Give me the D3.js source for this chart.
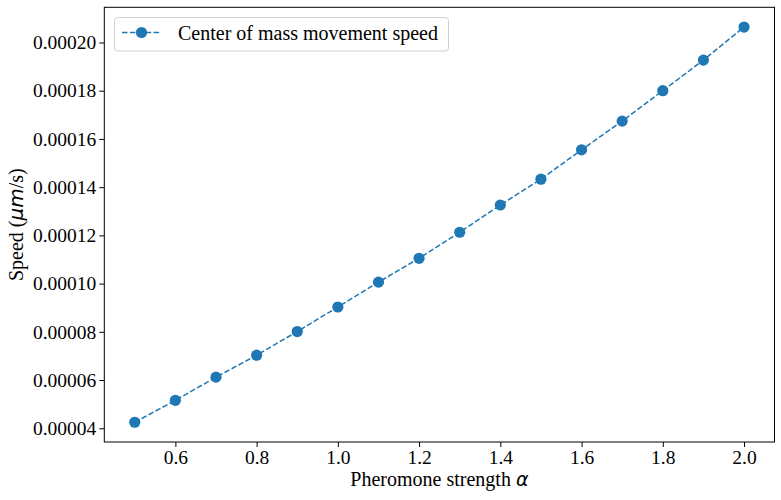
<!DOCTYPE html>
<html><head><meta charset="utf-8">
<script src="https://cdn.jsdelivr.net/npm/d3@7"></script>
<style>body{margin:0;background:#fff;} svg{display:block;}</style>
</head><body>
<svg id="chart" width="781" height="500"></svg>
<script>
const alphas = [0.5,0.6,0.7,0.8,0.9,1.0,1.1,1.2,1.3,1.4,1.5,1.6,1.7,1.8,1.9,2.0];
const speeds = [0.0000425,0.0000516,0.0000612,0.0000703,0.0000801,0.0000903,0.0001006,0.0001105,0.0001213,0.0001326,0.0001433,0.0001555,0.0001674,0.0001800,0.0001927,0.0002064];
const xTicks = [0.6,0.8,1.0,1.2,1.4,1.6,1.8,2.0];
const yTicks = [0.00004,0.00006,0.00008,0.00010,0.00012,0.00014,0.00016,0.00018,0.00020];
const seriesName = "Center of mass movement speed";

const svg = d3.select("#chart");
const L = 104.3, R = 774.5, T = 7.3, B = 442;
const xMin = d3.min(alphas), xMax = d3.max(alphas), xPad = (xMax - xMin) * 0.05;
const yMin = d3.min(speeds), yMax = d3.max(speeds), yPad = (yMax - yMin) * 0.05;
const x = d3.scaleLinear().domain([xMin - xPad, xMax + xPad]).range([L, R]);
const y = d3.scaleLinear().domain([yMin - yPad, yMax + yPad]).range([B, T]);
const font = "'Liberation Serif','Times New Roman',serif";
const color = "#1f77b4";

const xAxis = svg.append("g").attr("transform", `translate(0,${B})`)
  .call(d3.axisBottom(x).tickValues(xTicks).tickFormat(d3.format(".1f")).tickSize(5).tickPadding(3));
const yAxis = svg.append("g").attr("transform", `translate(${L},0)`)
  .call(d3.axisLeft(y).tickValues(yTicks).tickFormat(d3.format(".5f")).tickSize(5).tickPadding(3));
[xAxis, yAxis].forEach(a => {
  a.select(".domain").remove();
  a.selectAll("line").attr("stroke", "#000").attr("stroke-width", 1);
  a.selectAll("text").attr("font-family", font).attr("font-size", 19.5).attr("fill", "#000");
});

svg.append("rect").attr("x", L).attr("y", T).attr("width", R - L).attr("height", B - T)
  .attr("fill", "none").attr("stroke", "#000").attr("stroke-width", 1);

const line = d3.line().x((d, i) => x(alphas[i])).y(d => y(d));
svg.append("path").datum(speeds).attr("d", line).attr("fill", "none")
  .attr("stroke", color).attr("stroke-width", 1.5).attr("stroke-dasharray", "5.5,2.4");
svg.selectAll("circle.pt").data(speeds).enter().append("circle").attr("class", "pt")
  .attr("cx", (d, i) => x(alphas[i])).attr("cy", d => y(d)).attr("r", 5.6).attr("fill", color);

// legend
const lg = svg.append("g");
lg.append("rect").attr("x", 114.5).attr("y", 17.5).attr("width", 334).attr("height", 33.5)
  .attr("rx", 3).attr("fill", "#fff").attr("fill-opacity", 0.8).attr("stroke", "#d0d0d0").attr("stroke-width", 1);
lg.append("line").attr("x1", 122).attr("x2", 160).attr("y1", 32.5).attr("y2", 32.5)
  .attr("stroke", color).attr("stroke-width", 1.5).attr("stroke-dasharray", "5.5,2.4");
lg.append("circle").attr("cx", 141.5).attr("cy", 32.5).attr("r", 5.6).attr("fill", color);
lg.append("text").attr("x", 178).attr("y", 39.5).attr("font-family", font).attr("font-size", 20)
  .attr("fill", "#000").text(seriesName);

// axis labels
const xl = svg.append("text").attr("x", (L + R) / 2).attr("y", 486).attr("text-anchor", "middle")
  .attr("font-family", font).attr("font-size", 20).attr("fill", "#000");
xl.append("tspan").text("Pheromone strength ");
xl.append("tspan").attr("font-family", "'DejaVu Sans'").attr("font-style", "italic").attr("font-size", 19).text("α");

const yl = svg.append("text").attr("transform", `translate(23,${(T + B) / 2}) rotate(-90)`)
  .attr("text-anchor", "middle").attr("font-family", font).attr("font-size", 20).attr("fill", "#000");
yl.append("tspan").text("Speed (");
yl.append("tspan").attr("font-family", "'DejaVu Sans'").attr("font-style", "italic").attr("font-size", 20).text("μm");
yl.append("tspan").text("/s)");
</script>
</body></html>
